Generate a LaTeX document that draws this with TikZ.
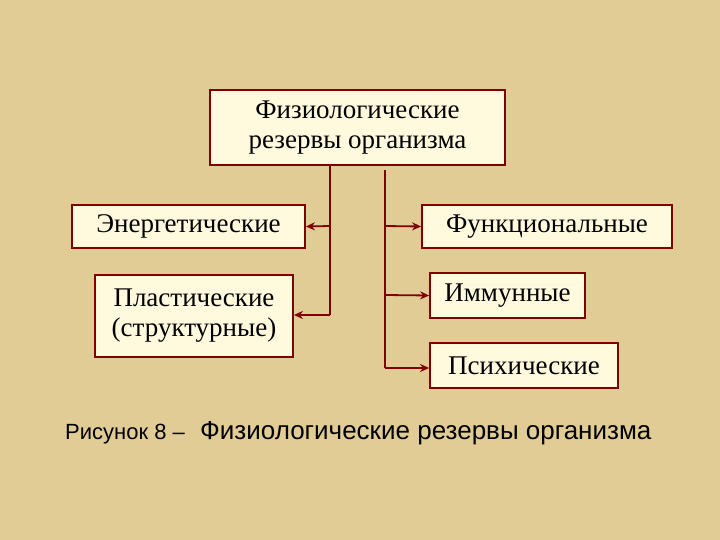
\documentclass[tikz,border=0pt]{standalone}
\usepackage{fontspec}
\setmainfont{Liberation Serif}
\newfontfamily\capfont{Liberation Sans}
\usetikzlibrary{arrows.meta}
\definecolor{bg}{RGB}{226,204,150}
\definecolor{boxfill}{RGB}{255,250,222}
\definecolor{mar}{RGB}{128,0,0}
\begin{document}
\begin{tikzpicture}[x=1pt,y=-1pt,
  bx/.style={draw=mar,line width=1.8pt,fill=boxfill,inner sep=0pt,align=center,font=\fontsize{27}{30}\selectfont},
  ln/.style={draw=mar,line width=1.8pt},
  ar/.style={ln,-{Stealth[length=9pt,width=8pt]}}]
\fill[bg] (0,0) rectangle (720,540);
\useasboundingbox (0,0) rectangle (720,540);
\node[bx,minimum width=295,minimum height=75] (top) at (357.5,127.5) {Физиологические\\резервы организма};
\node[bx,minimum width=233,minimum height=43] (en) at (188.5,226.5) {Энергетические};
\node[bx,minimum width=198,minimum height=82] (pl) at (194,316) {Пластические\\(структурные)};
\node[bx,minimum width=250,minimum height=43] (fu) at (547,226.5) {Функциональные};
\node[bx,minimum width=155,minimum height=45] (im) at (507.5,295.5) {Иммунные};
\node[bx,minimum width=188,minimum height=45] (ps) at (524,365.5) {Психические};
\coordinate (l1) at (330,165); \coordinate (l2) at (330,315);
\coordinate (r1) at (385,170); \coordinate (r2) at (385,368);
\draw[ln] (l1) -- (l2);
\draw[ln] (r1) -- (r2);
\draw[ar] (330,226) -- (en.east);
\draw[ar] (330,315) -- (pl.east |- 0,315);
\draw[ar] (385,226) -- (fu.west);
\draw[ar] (385,295) -- (im.west);
\draw[ar] (385,368) -- (ps.west |- 0,368);
\node[anchor=base west,font=\capfont\fontsize{22}{24}\selectfont,inner sep=0] (c1) at (65,439) {Рисунок 8 –};
\node[anchor=base west,font=\capfont\fontsize{26}{28}\selectfont,inner sep=0] (c2) at (200,439) {Физиологические резервы организма};
\end{tikzpicture}
\end{document}
